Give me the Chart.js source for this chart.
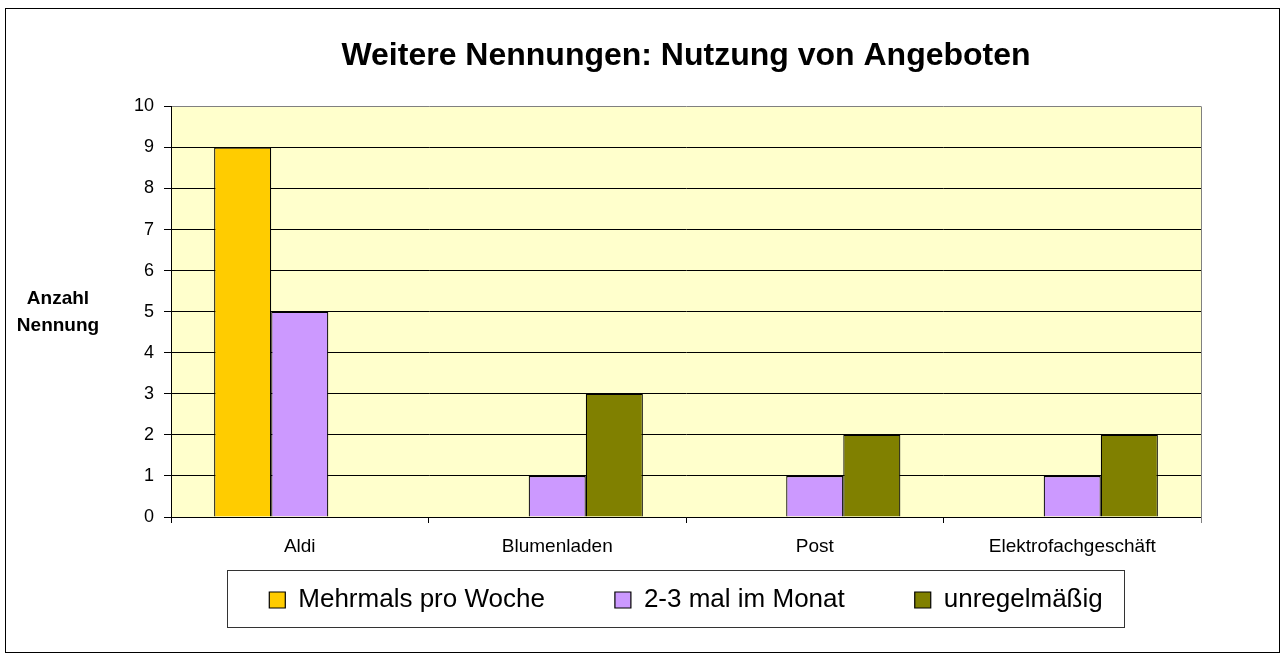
<!DOCTYPE html>
<html>
<head>
<meta charset="utf-8">
<script src="https://cdn.jsdelivr.net/npm/chart.js@4.4.0/dist/chart.umd.min.js"></script>
<style>
  html, body { margin: 0; padding: 0; background: #fff; }
</style>
</head>
<body>
<canvas id="chart" width="1282" height="655"></canvas>
<script>
// chart data
const categories = ['Aldi', 'Blumenladen', 'Post', 'Elektrofachgeschäft'];
const seriesNames = ['Mehrmals pro Woche', '2-3 mal im Monat', 'unregelmäßig'];
const mehrmalsProWoche = [9, 0, 0, 0];
const zweiDreiMalImMonat = [5, 1, 1, 1];
const unregelmaessig = [0, 3, 2, 2];
const yMin = 0, yMax = 10, yStep = 1;
const chartTitle = 'Weitere Nennungen: Nutzung von Angeboten';
const yTitleLines = ['Anzahl', 'Nennung'];

Chart.defaults.font.family = '"Liberation Sans", Arial, sans-serif';
Chart.defaults.color = '#000';

// background, frames and the horizontal y title
const chartFrame = {
  id: 'chartFrame',
  beforeDraw(chart) {
    const { ctx, chartArea: a } = chart;
    ctx.save();
    ctx.fillStyle = '#fff';
    ctx.fillRect(0, 0, chart.width, chart.height);
    ctx.fillStyle = '#FFFFCC';
    ctx.fillRect(a.left, a.top, a.right - a.left, a.bottom - a.top);
    ctx.restore();
  },
  beforeDatasetsDraw(chart) {
    const { ctx, chartArea: a } = chart;
    ctx.save();
    ctx.strokeStyle = '#808080';
    ctx.lineWidth = 1;
    ctx.beginPath();
    ctx.moveTo(Math.round(a.right) + 0.5, a.top);
    ctx.lineTo(Math.round(a.right) + 0.5, a.bottom + 6);
    ctx.stroke();
    ctx.restore();
  },
  afterDraw(chart) {
    const { ctx } = chart;
    ctx.save();
    // outer border
    ctx.strokeStyle = '#000';
    ctx.lineWidth = 1;
    ctx.strokeRect(5.5, 8.5, 1274, 644);

    // legend box
    const hb = chart.legend.legendHitBoxes;
    if (hb && hb.length) {
      const last = hb[hb.length - 1];
      const left = Math.round(hb[0].left - 42) + 0.5;
      const right = Math.round(last.left + last.width + 21) + 0.5;
      const top = Math.round(hb[0].top - 17) + 0.5;
      ctx.strokeStyle = '#333';
      ctx.strokeRect(left, top, right - left, 57);
    }

    // y title, written horizontally
    ctx.fillStyle = '#000';
    ctx.font = 'bold 19px "Liberation Sans", Arial, sans-serif';
    ctx.textAlign = 'center';
    ctx.textBaseline = 'alphabetic';
    ctx.fillText(yTitleLines[0], 58, 304);
    ctx.fillText(yTitleLines[1], 58, 331);
    ctx.restore();
  }
};

const barStyle = { borderColor: '#000', borderWidth: 1.2, barPercentage: 1, categoryPercentage: 0.665 };

new Chart(document.getElementById('chart'), {
  type: 'bar',
  data: {
    labels: categories,
    datasets: [
      { label: seriesNames[0], data: mehrmalsProWoche, backgroundColor: '#FFCC00', ...barStyle },
      { label: seriesNames[1], data: zweiDreiMalImMonat, backgroundColor: '#CC99FF', ...barStyle },
      { label: seriesNames[2], data: unregelmaessig, backgroundColor: '#808000', ...barStyle }
    ]
  },
  options: {
    responsive: false,
    animation: false,
    devicePixelRatio: 1,
    layout: { padding: { top: 0, left: 0, right: 81, bottom: 32 } },
    plugins: {
      tooltip: { enabled: false },
      title: {
        display: true,
        text: chartTitle,
        fullSize: false,
        color: '#000',
        font: { size: 32, weight: 'bold' },
        padding: { top: 37, bottom: 31 }
      },
      legend: {
        position: 'bottom',
        fullSize: false,
        labels: {
          boxWidth: 16,
          boxHeight: 16,
          padding: 70,
          color: '#000',
          font: { size: 26 }
        }
      }
    },
    scales: {
      x: {
        grid: { drawOnChartArea: false, drawTicks: true, tickLength: 6, color: '#000', offset: true },
        border: { color: '#000' },
        // mirror keeps the labels from being clipped to the (zero height) axis box
        ticks: { font: { size: 19 }, mirror: true, padding: -41, maxRotation: 0, autoSkip: false },
        afterFit(scale) { scale.height = 0; }
      },
      y: {
        min: yMin,
        max: yMax,
        ticks: { stepSize: yStep, font: { size: 18 }, padding: 10 },
        grid: {
          color: c => (c.tick && c.tick.value === yMax ? '#808080' : '#000'),
          tickColor: '#000',
          tickLength: 7
        },
        border: { color: '#000' },
        afterFit(scale) { scale.width = 171; }
      }
    }
  },
  plugins: [chartFrame]
});
</script>
</body>
</html>
